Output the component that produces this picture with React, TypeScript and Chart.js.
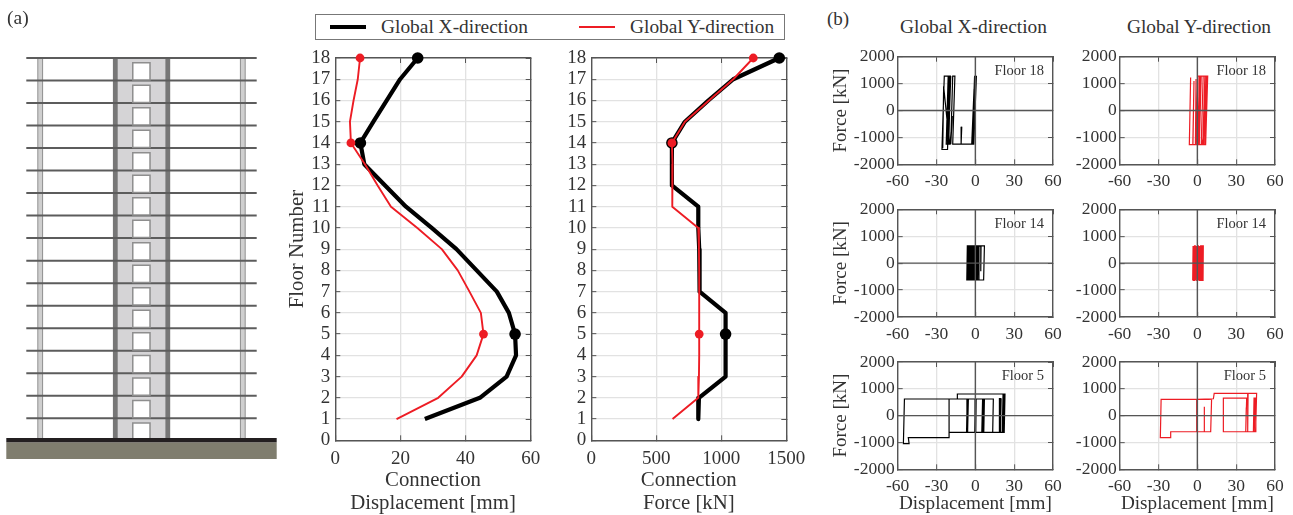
import React, { useEffect, useRef } from "react";
import { Chart, registerables } from "chart.js";

Chart.register(...registerables);

const SERIF = '"Liberation Serif", "Times New Roman", serif';
const TEXT = "#333333";
const FRAME = "#555555";
const GRID = "#e2e2e2";
const RED = "#ed1c24";

// ---------- storey profiles ----------
const floorNumbers = [18, 17, 16, 15, 14, 13, 12, 11, 10, 9, 8, 7, 6, 5, 4, 3, 2, 1];
const markedFloors = [18, 14, 5];
const displacementX = [25.3, 19.9, 15.8, 11.7, 7.7, 8.9, 15.3, 21.7, 29.6, 37.2, 43.4, 49.6, 53.3, 55.2, 55.5, 52.6, 44.4, 27.5];
const displacementY = [7.6, 6.9, 5.6, 4.5, 4.8, 9.1, 13, 17.1, 25.2, 32.7, 37.6, 41.2, 44.7, 45.5, 43.4, 38.8, 31.6, 18.8];
const forceX = [1446, 1092, 900, 720, 620, 620, 620, 823, 823, 830, 830, 836, 1033, 1033, 1033, 1033, 828, 823];
const forceY = [1246, 1092, 905, 720, 620, 625, 623, 623, 823, 828, 830, 830, 830, 830, 830, 828, 823, 625];

// ---------- hysteresis loops: [displacement mm, force kN] ----------
const loopFloor18X = [[-10.5,-600],[-11,-1250],[-2,-1250],[-0.2,1270],[0.8,1270],[-1.2,-1250],[-2.4,-1250],[-0.6,1270],[0.3,1270],[-1.7,-1250],[-2.8,-1250],[-1,800],[-1.7,-1250],[-17.5,-1250],[-15.8,1280],[-17.5,1280],[-19,-1250],[-17.8,-200],[-19.5,-1250],[-22.5,-1250],[-20.5,1280],[-24,1280],[-25.8,-1450],[-21.5,-1450],[-19.6,1280],[-21,1280],[-22.5,-1250],[-20.3,1280],[-19.3,1280],[-21.5,-1250],[-20,1280],[-20.9,-1250],[-19,1280],[-21.2,-1250],[-19.6,1280],[-20.6,-1250],[-19.2,1280],[-21,-400],[-20,-1250],[-24.5,900],[-25.2,-1400]];
const loopFloor18Y = [[-5.2,1230],[-6.2,-1270],[-3.5,-1270],[-2.6,1100],[-3.4,-1270],[-1,-1270],[-1,1170],[-1.5,-1270],[6.4,-1270],[8,1280],[0.4,1280],[-0.8,-1270],[1.5,-1270],[3,1280],[4.5,1280],[3,-1270],[4.2,-1270],[5.8,1280],[7,1280],[5.2,-1270],[6.2,-1270],[7.6,1280],[6,1280],[4.6,-1270],[3.6,-1270],[5,-800],[4.6,-1270],[1,-1270],[2.5,1280],[1.6,1280],[0.2,-1270]];
const loopFloor14X = [[-6.6,-625],[-6.2,630],[-5.6,630],[-6,-625],[-5.3,-625],[-4.9,630],[-4.3,630],[-4.7,-625],[-4,-625],[-3.6,630],[-3,630],[-3.4,-625],[-2.7,-625],[-2.3,630],[-1.7,630],[-2.1,-625],[-1.4,-625],[-1,630],[-0.4,630],[-0.8,-625],[-0.1,-625],[0.3,630],[0.9,630],[0.5,-625],[1.2,-625],[1.6,630],[2.2,630],[1.8,-625],[6.4,-625],[7,640],[-6.2,640],[-6.6,-625],[2.4,-625],[2.8,630],[4.3,630],[4.2,-300],[4.4,630]];
const loopFloor14Y = [[-3.6,-640],[-3.3,640],[-2.8,640],[-3,-640],[-2.4,-640],[-2.2,640],[-1.6,640],[-1.8,-640],[-1.2,-640],[-1,640],[-0.4,640],[-0.6,-640],[0,-640],[0.2,640],[0.8,640],[0.6,-640],[1.2,-640],[1.4,640],[1.9,640],[1.6,-640],[2.6,-640],[2.4,-100],[2.7,640],[3.3,640],[3.1,-640],[3.7,-640],[3.9,640],[4.6,640],[4.4,-640],[3,-640]];
const loopFloor5X = [[0,450],[-0.5,-620],[-7,-620],[-6.5,620],[-5.4,620],[-6,-620],[-6.8,-620],[-6.3,620],[-5.7,620],[-6.2,-620],[0.3,-620],[0.6,620],[-0.2,620],[-0.3,-620],[5,-620],[5.6,620],[7,620],[6.5,-620],[5.4,-620],[6,620],[6.6,620],[6,-620],[13.4,-620],[13.9,620],[-13.9,620],[-13.9,807],[22.9,807],[22.3,-620],[19,-620],[18.6,640],[19.6,640],[19.2,-620],[19.9,640],[19.4,-620],[21.5,-620],[22.2,807],[21.4,807],[20.8,-620],[13.4,-620],[-20.3,-620],[-20.3,620],[-54.8,620],[-55.6,-1043],[-51.2,-1043],[-51.8,-820],[-20.3,-820],[-20.3,620],[-13.9,620]];
const loopFloor5Y = [[5.4,335],[5.4,-600],[-0.5,-600],[-0.5,610],[-28,610],[-28.6,-820],[-20.6,-820],[-20.6,-600],[10.3,-600],[11,610],[-0.5,610],[12.4,630],[13,832],[45.8,832],[45,-600],[43.3,-600],[43.8,650],[44.6,650],[44,-600],[44.8,-600],[45.2,650],[44.4,650],[43.6,-600],[38.9,-600],[39.2,832],[38.9,832],[38.9,-600],[37.4,-600],[37.8,300],[37.4,-600],[20.1,-600],[20.1,650],[38.1,650],[37.4,-600]];

// ---------- building elevation (storey levels, plan positions) ----------
const beamLevels = [1, 2, 3, 4, 5, 6, 7, 8, 9, 10, 11, 12, 13, 14, 15, 16, 17];
const windowLevels = [0.41, 1.41, 2.41, 3.41, 4.41, 5.41, 6.41, 7.41, 8.41, 9.41, 10.41, 11.41, 12.41, 13.41, 14.41, 15.41, 16.41];
const beamSpan = [26.3, 256.7];
const outerColumns = [40.2, 242.8];
const coreWalls = [115.3, 167.8];
const coreCentre = 141.4;
const groundSpan = [6.3, 276.7];
const groundLevels = [0.03, -0.435];
const topLevel = 17;

type Rect = { l: number; t: number; r: number; b: number };

function pinScale(size: number, horizontal: boolean) {
  return (scale: any) => {
    if (horizontal) scale.height = size;
    else scale.width = size;
    scale.paddingTop = 0;
    scale.paddingBottom = 0;
    scale.paddingLeft = 0;
    scale.paddingRight = 0;
  };
}

function framedOptions(
  box: Rect,
  plot: Rect,
  x: { min: number; max: number; step: number; title?: string | string[]; font: number },
  y: { min: number; max: number; step: number; title?: string; font: number; titleFont?: number },
  tickFont: number,
  gaps: { xPad: number; yPad: number }
) {
  const tick = (v: any) => String(v);
  const border = { display: true, color: FRAME, width: 1.4 };
  const grid = { color: GRID, lineWidth: 1.3, tickColor: FRAME, tickLength: -5, tickWidth: 1 };
  const edge = { color: "rgba(0,0,0,0)", drawOnChartArea: false, tickColor: FRAME, tickLength: -5, tickWidth: 1 };
  return {
    responsive: false,
    animation: false,
    maintainAspectRatio: false,
    parsing: false,
    layout: { padding: 0, autoPadding: false },
    plugins: { legend: { display: false }, tooltip: { enabled: false }, title: { display: false } },
    scales: {
      x: {
        type: "linear", position: "bottom", min: x.min, max: x.max,
        afterFit: pinScale(box.b - plot.b, true),
        border, grid,
        ticks: { stepSize: x.step, color: TEXT, font: { family: SERIF, size: tickFont }, padding: gaps.xPad, callback: tick, maxRotation: 0, autoSkip: false, includeBounds: true },
        title: x.title ? { display: true, text: x.title, color: TEXT, padding: 0, font: { family: SERIF, size: x.font, lineHeight: 1.12 } } : { display: false },
      },
      xTop: {
        type: "linear", position: "top", min: x.min, max: x.max, display: true,
        afterFit: pinScale(plot.t - box.t, true),
        border, grid: edge,
        ticks: { display: false, stepSize: x.step, autoSkip: false },
      },
      y: {
        type: "linear", position: "left", min: y.min, max: y.max,
        afterFit: pinScale(plot.l - box.l, false),
        border, grid,
        ticks: { stepSize: y.step, color: TEXT, font: { family: SERIF, size: tickFont }, padding: gaps.yPad, callback: tick, autoSkip: false, includeBounds: true },
        title: y.title ? { display: true, text: y.title, color: TEXT, padding: 0, font: { family: SERIF, size: y.titleFont ?? y.font, lineHeight: 1.2 } } : { display: false },
      },
      yRight: {
        type: "linear", position: "right", min: y.min, max: y.max, display: true,
        afterFit: pinScale(box.r - plot.r, false),
        border, grid: edge,
        ticks: { display: false, stepSize: y.step, autoSkip: false },
      },
    },
  };
}

function cornerLabel(text: string) {
  return {
    id: "cornerLabel",
    afterDatasetsDraw(chart: any) {
      const { ctx, chartArea } = chart;
      ctx.save();
      ctx.font = `14.5px ${SERIF}`;
      ctx.fillStyle = TEXT;
      ctx.textAlign = "right";
      ctx.textBaseline = "middle";
      ctx.fillText(text, chartArea.right - 9, chartArea.top + 14.5);
      ctx.restore();
    },
  };
}

function ChartCanvas({ box, config }: { box: Rect; config: () => any }) {
  const ref = useRef<HTMLCanvasElement>(null);
  useEffect(() => {
    const chart = new Chart(ref.current as HTMLCanvasElement, config());
    return () => chart.destroy();
  }, []);
  return (
    <canvas
      ref={ref}
      width={box.r - box.l}
      height={box.b - box.t}
      style={{ position: "absolute", left: box.l, top: box.t, width: box.r - box.l, height: box.b - box.t }}
    />
  );
}

function profileDataset(label: string, values: number[], color: string, width: number, radius: number) {
  return {
    label,
    data: floorNumbers.map((f, i) => ({ x: values[i], y: f })),
    borderColor: color,
    backgroundColor: color,
    borderWidth: width,
    borderCapStyle: "butt",
    borderJoinStyle: "round",
    tension: 0,
    clip: false,
    pointRadius: floorNumbers.map((f) => (markedFloors.includes(f) ? radius : 0)),
    pointBorderWidth: 0,
    pointBackgroundColor: color,
  };
}

function ProfilePlot({ box, plot, xMax, xStep, xTitle, yTitle, valuesX, valuesY }: any) {
  return (
    <ChartCanvas
      box={box}
      config={() => ({
        type: "scatter",
        data: {
          datasets: [
            { ...profileDataset("Global Y-direction", valuesY, RED, 1.9, 4.4), showLine: true },
            { ...profileDataset("Global X-direction", valuesX, "#000000", 4.2, 5.8), showLine: true },
          ],
        },
        options: framedOptions(
          box, plot,
          { min: 0, max: xMax, step: xStep, title: xTitle, font: 20.8 },
          { min: 0, max: 18, step: 1, title: yTitle, font: 20.8 },
          19,
          { xPad: 12, yPad: 10 }
        ),
      })}
    />
  );
}

function LoopPlot({ box, plot, loop, color, floor, xTitle, yTitle }: any) {
  const zeroH = { data: [{ x: -60, y: 0 }, { x: 60, y: 0 }], borderColor: "#555555", borderWidth: 1.4, showLine: true, pointRadius: 0 };
  const zeroV = { data: [{ x: 0, y: -2000 }, { x: 0, y: 2000 }], borderColor: "#555555", borderWidth: 1.4, showLine: true, pointRadius: 0 };
  return (
    <ChartCanvas
      box={box}
      config={() => ({
        type: "scatter",
        data: {
          datasets: [
            zeroH,
            zeroV,
            {
              label: floor,
              data: loop.map((p: number[]) => ({ x: p[0], y: p[1] })),
              borderColor: color,
              borderWidth: 1.2,
              showLine: true,
              pointRadius: 0,
              tension: 0,
              borderJoinStyle: "miter",
            },
          ],
        },
        options: framedOptions(
          box, plot,
          { min: -60, max: 60, step: 30, title: xTitle, font: 19.2 },
          { min: -2000, max: 2000, step: 1000, title: yTitle, font: 19 },
          17.5,
          { xPad: 11.5, yPad: 8 }
        ),
        plugins: [cornerLabel(floor)],
      })}
    />
  );
}

function Building() {
  const box = { l: 0, t: 0, r: 290, b: 515 };
  const vertical = (x: number, color: string, width: number) => ({
    data: [{ x, y: 0 }, { x, y: topLevel }],
    borderColor: color, borderWidth: width, showLine: true, pointRadius: 0, borderCapStyle: "butt",
  });
  const horizontal = (span: number[], y: number, color: string, width: number) => ({
    data: [{ x: span[0], y }, { x: span[1], y }],
    borderColor: color, borderWidth: width, showLine: true, pointRadius: 0, borderCapStyle: "butt",
  });
  return (
    <ChartCanvas
      box={box}
      config={() => ({
        type: "scatter",
        data: {
          // the first dataset is painted last
          datasets: [
            horizontal(groundSpan, groundLevels[0], "#231f20", 4.4),
            horizontal(groundSpan, groundLevels[1], "#7f7d6e", 16.7),
            {
              data: windowLevels.map((y) => ({ x: coreCentre, y })),
              showLine: false, pointStyle: "rect", pointRadius: 12.2, pointBorderWidth: 1.5,
              pointBorderColor: "#8e8e8e", pointBackgroundColor: "#ffffff",
            },
            ...beamLevels.map((y) => horizontal(beamSpan, y, "#5c5c5c", 2)),
            ...coreWalls.map((x) => vertical(x, "#777777", 4.8)),
            vertical(coreCentre, "#d5d4d6", 50),
            ...outerColumns.map((x) => vertical(x, "#cfcfcf", 3.8)),
            ...outerColumns.map((x) => vertical(x, "#8f8f8f", 5.8)),
          ],
        },
        options: {
          responsive: false, animation: false, parsing: false,
          layout: { padding: 0, autoPadding: false },
          plugins: { legend: { display: false }, tooltip: { enabled: false } },
          scales: {
            x: { type: "linear", display: false, min: 0, max: 290 },
            y: { type: "linear", display: false, min: -3.295, max: 19.574 },
          },
        },
      })}
    />
  );
}

function Label({ x, y, size, children, center }: any) {
  return (
    <div
      style={{
        position: "absolute", left: x, top: y, fontFamily: SERIF, fontSize: size, color: TEXT,
        lineHeight: 1, whiteSpace: "nowrap", transform: center ? "translate(-50%,-50%)" : "translateY(-50%)",
      }}
    >
      {children}
    </div>
  );
}

const col1 = { l: 897.7, r: 1053 };
const col2 = { l: 1119.7, r: 1275 };
const row1 = { t: 56.7, b: 164.3 };
const row2 = { t: 209.3, b: 317 };
const row3 = { t: 362, b: 469.3 };

export default function App() {
  return (
    <div style={{ position: "absolute", left: 0, top: 0, width: 1293, height: 515, overflow: "hidden", background: "#fff" }}>
      <Building />
      <Label x={7} y={18} size={19.5}>(a)</Label>
      <Label x={827} y={18} size={19}>(b)</Label>

      <div style={{ position: "absolute", left: 315, top: 14, width: 470, height: 26, border: "1px solid #777", boxSizing: "border-box" }} />
      <div style={{ position: "absolute", left: 330, top: 25, width: 36, height: 4.2, background: "#000" }} />
      <div style={{ position: "absolute", left: 579, top: 26, width: 36, height: 2, background: RED }} />
      <Label x={381} y={27} size={19.4}>Global X-direction</Label>
      <Label x={630} y={27} size={19.4}>Global Y-direction</Label>

      <ProfilePlot
        box={{ l: 285, t: 45, r: 545, b: 515 }}
        plot={{ l: 335.3, t: 58, r: 530.7, b: 440.3 }}
        xMax={60} xStep={20}
        xTitle={["Connection", "Displacement [mm]"]}
        yTitle="Floor Number"
        valuesX={displacementX} valuesY={displacementY}
      />
      <ProfilePlot
        box={{ l: 550, t: 45, r: 805, b: 515 }}
        plot={{ l: 591.3, t: 58, r: 786.3, b: 440.3 }}
        xMax={1500} xStep={500}
        xTitle={["Connection", "Force [kN]"]}
        valuesX={forceX} valuesY={forceY}
      />

      <Label x={973.5} y={27} size={19.4} center>Global X-direction</Label>
      <Label x={1199} y={27} size={19.4} center>Global Y-direction</Label>

      <LoopPlot box={{ l: 830, t: 45, r: 1070, b: 195 }} plot={{ ...col1, ...row1 }} loop={loopFloor18X} color="#000000" floor="Floor 18" yTitle="Force [kN]" />
      <LoopPlot box={{ l: 1070, t: 45, r: 1293, b: 195 }} plot={{ ...col2, ...row1 }} loop={loopFloor18Y} color={RED} floor="Floor 18" />
      <LoopPlot box={{ l: 830, t: 198, r: 1070, b: 345 }} plot={{ ...col1, ...row2 }} loop={loopFloor14X} color="#000000" floor="Floor 14" yTitle="Force [kN]" />
      <LoopPlot box={{ l: 1070, t: 198, r: 1293, b: 345 }} plot={{ ...col2, ...row2 }} loop={loopFloor14Y} color={RED} floor="Floor 14" />
      <LoopPlot box={{ l: 830, t: 350, r: 1070, b: 515 }} plot={{ ...col1, ...row3 }} loop={loopFloor5X} color="#000000" floor="Floor 5" xTitle="Displacement [mm]" yTitle="Force [kN]" />
      <LoopPlot box={{ l: 1070, t: 350, r: 1293, b: 515 }} plot={{ ...col2, ...row3 }} loop={loopFloor5Y} color={RED} floor="Floor 5" xTitle="Displacement [mm]" />
    </div>
  );
}
